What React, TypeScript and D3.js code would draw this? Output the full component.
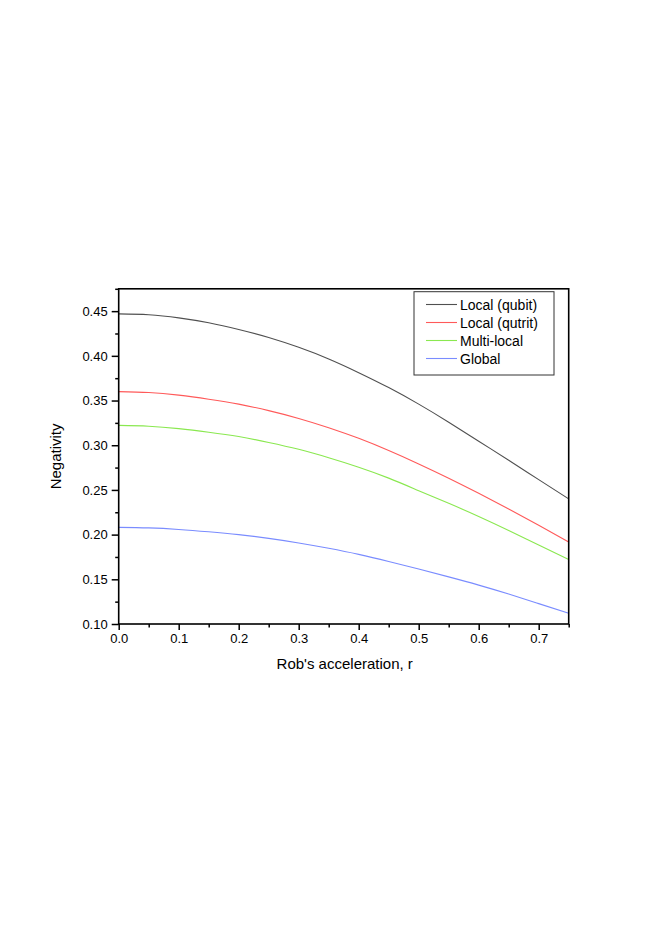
import React, { useEffect, useRef } from 'react';
import * as d3 from 'd3';

// r values and the four negativity curves
const rValues = [0, 0.05, 0.1, 0.15, 0.2, 0.25, 0.3, 0.35, 0.4, 0.45, 0.5, 0.55, 0.6, 0.65, 0.7, 0.75];
const localQubit = [0.447, 0.446, 0.4425, 0.437, 0.4295, 0.4205, 0.4095, 0.3965, 0.3812, 0.3645, 0.346, 0.3258, 0.3045, 0.2832, 0.2615, 0.24];
const localQutrit = [0.36, 0.359, 0.356, 0.3515, 0.346, 0.3387, 0.33, 0.3196, 0.3077, 0.2941, 0.2791, 0.2631, 0.2462, 0.2286, 0.2104, 0.1918];
const multiLocal = [0.3222, 0.3213, 0.3186, 0.3146, 0.3097, 0.3031, 0.2954, 0.286, 0.2754, 0.2632, 0.2492, 0.235, 0.2203, 0.2046, 0.1883, 0.1722];
const globalNeg = [0.2081, 0.2075, 0.2058, 0.2032, 0.2, 0.1958, 0.1907, 0.1847, 0.1779, 0.17, 0.1615, 0.1527, 0.1435, 0.1335, 0.1228, 0.112];

const seriesNames = ['Local (qubit)', 'Local (qutrit)', 'Multi-local', 'Global'];
const seriesValues = [localQubit, localQutrit, multiLocal, globalNeg];
const seriesColors = ['#505050', '#ff5a5a', '#8ae850', '#7a8cff'];

const xTicks = [0, 0.1, 0.2, 0.3, 0.4, 0.5, 0.6, 0.7];
const xMinor = [0.05, 0.15, 0.25, 0.35, 0.45, 0.55, 0.65, 0.75];
const yTicks = [0.1, 0.15, 0.2, 0.25, 0.3, 0.35, 0.4, 0.45];
const yMinor = [0.125, 0.175, 0.225, 0.275, 0.325, 0.375, 0.425, 0.475];

export default function App() {
  const ref = useRef<SVGSVGElement | null>(null);

  useEffect(() => {
    document.body.style.margin = '0';
    const width = 662, height = 936;
    const left = 118.7, right = 568.7, top = 288.8, bottom = 624;
    const font = 'Liberation Sans, Arial, sans-serif';

    const svg = d3.select(ref.current);
    svg.selectAll('*').remove();
    svg.attr('width', width).attr('height', height);

    const x = d3.scaleLinear().domain([0, 0.75]).range([left, right]);
    const y = d3.scaleLinear().domain([0.1, 0.475]).range([bottom, top]);

    // curves
    const line = d3.line<number>()
      .x((_, i) => x(rValues[i]))
      .y(d => y(d))
      .curve(d3.curveNatural);
    seriesValues.forEach((vals, i) => {
      svg.append('path').attr('d', line(vals) as string)
        .attr('fill', 'none').attr('stroke', seriesColors[i]).attr('stroke-width', 1.1);
    });

    // frame
    svg.append('rect').attr('x', left).attr('y', top).attr('width', right - left).attr('height', bottom - top)
      .attr('fill', 'none').attr('stroke', '#000').attr('stroke-width', 1.6);

    // x axis
    const gx = svg.append('g').attr('transform', `translate(0,${bottom})`);
    gx.call(d3.axisBottom(x).tickValues(xMinor).tickSize(3.5).tickFormat(() => ''));
    gx.select('.domain').remove();
    const gx2 = svg.append('g').attr('transform', `translate(0,${bottom})`);
    gx2.call(d3.axisBottom(x).tickValues(xTicks).tickSize(6).tickPadding(4).tickFormat(d3.format('.1f')));
    gx2.select('.domain').remove();
    gx2.selectAll('text').attr('font-family', font).attr('font-size', 13).attr('fill', '#000');

    // y axis
    const gy = svg.append('g').attr('transform', `translate(${left},0)`);
    gy.call(d3.axisLeft(y).tickValues(yMinor).tickSize(3.5).tickFormat(() => ''));
    gy.select('.domain').remove();
    const gy2 = svg.append('g').attr('transform', `translate(${left},0)`);
    gy2.call(d3.axisLeft(y).tickValues(yTicks).tickSize(7).tickPadding(4).tickFormat(d3.format('.2f')));
    gy2.select('.domain').remove();
    gy2.selectAll('text').attr('font-family', font).attr('font-size', 13).attr('fill', '#000');
    svg.selectAll('.tick line').attr('stroke-width', 1.5);

    // titles
    svg.append('text').attr('x', (left + right) / 2 + 1).attr('y', 669)
      .attr('text-anchor', 'middle').attr('font-family', font).attr('font-size', 15)
      .text("Rob's acceleration, r");
    svg.append('text').attr('transform', `translate(61,${(top + bottom) / 2}) rotate(-90)`)
      .attr('text-anchor', 'middle').attr('font-family', font).attr('font-size', 15)
      .text('Negativity');

    // legend
    const lg = svg.append('g');
    lg.append('rect').attr('x', 414).attr('y', 291.7).attr('width', 140).attr('height', 83.3)
      .attr('fill', '#fff').attr('stroke', '#333').attr('stroke-width', 1);
    seriesNames.forEach((name, i) => {
      const cy = 304.5 + i * 18;
      lg.append('line').attr('x1', 426).attr('x2', 457).attr('y1', cy).attr('y2', cy)
        .attr('stroke', seriesColors[i]).attr('stroke-width', 1.1);
      lg.append('text').attr('x', 460).attr('y', cy + 5).attr('font-family', font).attr('font-size', 14)
        .text(name);
    });
  }, []);

  return <svg ref={ref} style={{ display: 'block' }} />;
}
